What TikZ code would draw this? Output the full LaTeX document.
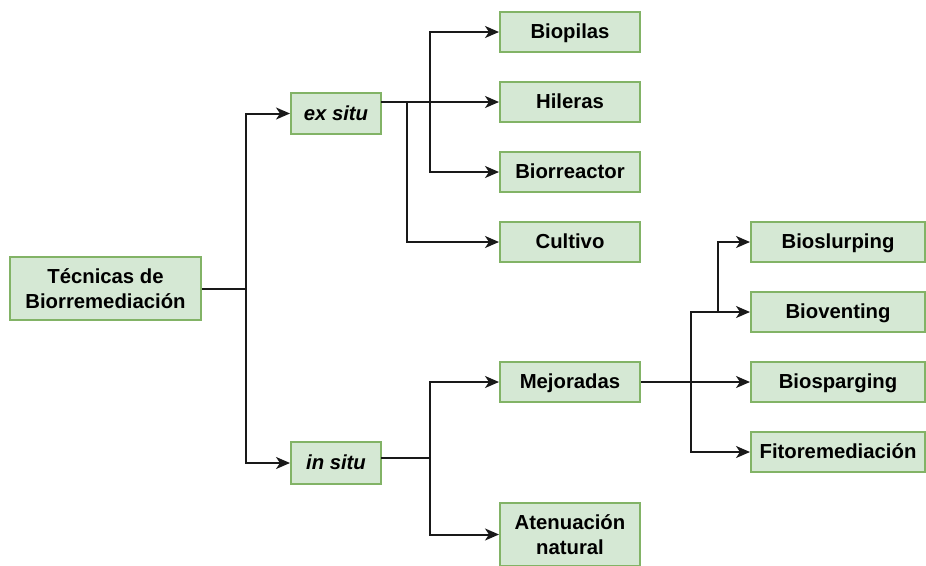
\documentclass[tikz,border=0pt]{standalone}
\usepackage{fontspec}
\setmainfont{Liberation Sans}
\usetikzlibrary{arrows.meta,calc}
\definecolor{boxfill}{HTML}{D5E8D4}
\definecolor{boxline}{HTML}{82B366}
\begin{document}
\begin{tikzpicture}[x=1pt,y=-1pt,
  box/.style={draw=boxline,fill=boxfill,line width=2pt,inner sep=0pt,align=center,
    font=\fontsize{20.3}{25}\selectfont\bfseries},
  onebox/.style={box,text height=18pt,text depth=4.5pt},
  midbox/.style={onebox,minimum width=140pt,minimum height=40pt},
  leafbox/.style={onebox,minimum width=174pt,minimum height=40pt},
  conn/.style={line width=2pt,draw=black!90,-{Stealth[length=14pt,width=12pt,inset=4pt]}},
  plain/.style={line width=2pt,draw=black!90}]
\useasboundingbox (0,0) rectangle (926,565);
\node[box,minimum width=191pt,minimum height=63pt] (root) at (105.5,288.5) {Técnicas de\\Biorremediación};
\node[onebox,minimum width=90pt,minimum height=41pt] (ex) at (336,113.5) {\itshape ex situ};
\node[onebox,minimum width=90pt,minimum height=42pt] (is) at (336,463) {\itshape in situ};
\node[midbox] (bp) at (570,32) {Biopilas};
\node[midbox] (hil) at (570,102) {Hileras};
\node[midbox] (bio) at (570,172) {Biorreactor};
\node[midbox] (cul) at (570,242) {Cultivo};
\node[midbox] (mej) at (570,382) {Mejoradas};
\node[box,minimum width=140pt,minimum height=63pt] (at) at (570,534.5) {Atenuación\\natural};
\node[leafbox] (bsl) at (838,242) {Bioslurping};
\node[leafbox] (bve) at (838,312) {Bioventing};
\node[leafbox] (bsp) at (838,382) {Biosparging};
\node[leafbox] (fit) at (838,452) {Fitoremediación};
% junctions
\coordinate (j1) at (246,288.5);
\coordinate (exo) at (381,102);
\coordinate (jx1) at (430,102);
\coordinate (jx2) at (407,102);
\coordinate (iso) at (381,458);
\coordinate (ji) at (430,458);
\coordinate (jm) at (691,382);
\coordinate (jm2) at (718,312);
% connectors
\draw[plain] (root.east) -- (j1);
\draw[conn] (j1) |- (ex.west);
\draw[conn] (j1) |- (is.west);
\draw[conn] (exo) -- (hil.west);
\draw[conn] (jx1) |- (bp.west);
\draw[conn] (jx1) |- (bio.west);
\draw[conn] (jx2) |- (cul.west);
\draw[plain] (iso) -- (ji);
\draw[conn] (ji) |- (mej.west);
\draw[conn] (ji) |- (at.west);
\draw[conn] (mej.east) -- (bsp.west);
\draw[conn] (jm) |- (bve.west);
\draw[conn] (jm) |- (fit.west);
\draw[conn] (jm) |- (jm2) |- (bsl.west);
\end{tikzpicture}
\end{document}
